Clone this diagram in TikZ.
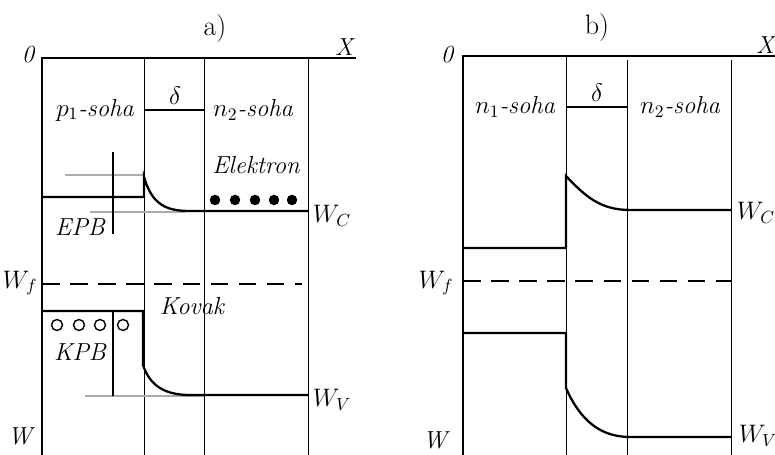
\documentclass[tikz,border=0pt]{standalone}
\usepackage{tikz}
\usetikzlibrary{positioning, calc}

\begin{document}
\begin{tikzpicture}[
  x=0.02cm, y=-0.02cm,
  axisline/.style={line width=1.4pt},
  band/.style={line width=1.3pt},
  divider/.style={line width=0.5pt},
  guide/.style={line width=0.6pt, color=gray!65},
  lbl/.style={font=\fontsize{14}{16}\selectfont\itshape, inner sep=1pt},
  ttl/.style={font=\fontsize{16}{18}\selectfont},
  elec/.style={circle, fill=black, inner sep=0pt, minimum size=0.21cm},
  hole/.style={circle, draw=black, fill=white, line width=0.8pt, inner sep=0pt, minimum size=0.22cm},
]
\useasboundingbox (0,0) rectangle (775,455);

% ---- a) ----
\node[ttl] (titleA) at (215,28) {a)};
\draw[axisline] (42,455) -- (42,58) -- (356,58);
\node[lbl] (zeroA) at (28,55) {0};
\node[lbl] (xA) at (344,47) {X};
\node[lbl] (wA) at (20,436) {W};

% region borders
\foreach \xx in {144,204,308}
  \draw[divider] (\xx,58) -- (\xx,455);
\draw[band] (144,110) -- (204,110);
\node[lbl] (deltaA) at (175,96) {$\delta$};
\node[lbl] (p1) at (95,110) {$p_1$-soha};
\node[lbl] (n2A) at (253,110) {$n_2$-soha};

% conduction band
\draw[guide] (65,175) -- (144,175);
\draw[guide] (90,212) -- (185,212);
\draw[band] (42,197) -- (144,197) -- (144,177)
  .. controls (152,204) and (165,211) .. (190,211) -- (308,211);
\draw[divider, line width=0.8pt] (113,152) -- (113,234);
\node[lbl] (epb) at (80,227) {EPB};
\node[lbl] (wcA) at (332,216) {$W_C$};
\node[lbl] (elektron) at (256,165) {Elektron};
\foreach \xx [count=\i] in {215,235,255,274,292}
  \node[elec] (e\i) at (\xx,200) {};

% Fermi level
\draw[line width=0.9pt, dash pattern=on 10pt off 6pt] (42,284) -- (302,284);
\node[lbl] (wfA) at (20,283) {$W_f$};
\node[lbl] (kovak) at (192,306) {Kovak};

% valence band
\draw[guide] (85,396) -- (204,396);
\draw[band] (42,311) -- (143,311) -- (143,365)
  .. controls (150,386) and (165,395) .. (190,395) -- (308,395);
\draw[divider, line width=0.8pt] (113,311) -- (113,396);
\foreach \xx [count=\i] in {57,79,100,123}
  \node[hole] (h\i) at (\xx,325) {};
\node[lbl] (kpb) at (80,352) {KPB};
\node[lbl] (wvA) at (332,400) {$W_V$};

% ---- b) ----
\node[ttl] (titleB) at (597,27) {b)};
\draw[axisline] (463,455) -- (463,56) -- (775,56);
\node[lbl] (zeroB) at (447,55) {0};
\node[lbl] (xB) at (765,45) {X};
\node[lbl] (wB) at (435,440) {W};

\draw[divider] (566,56) -- (566,455);
\foreach \xx in {627,731}
  \draw[divider] (\xx,60) -- (\xx,455);
\draw[band] (566,107) -- (627,107);
\node[lbl] (deltaB) at (597,93) {$\delta$};
\node[lbl] (n1) at (515,107) {$n_1$-soha};
\node[lbl] (n2B) at (680,107) {$n_2$-soha};

% conduction band
\draw[band] (463,248) -- (566,248) -- (566,176)
  .. controls (585,196) and (600,210) .. (630,210) -- (731,210);
\node[lbl] (wcB) at (756,213) {$W_C$};

% Fermi level
\draw[line width=0.9pt, dash pattern=on 10pt off 6pt] (463,281) -- (731,281);
\node[lbl] (wfB) at (436,283) {$W_f$};

% valence band
\draw[band] (463,333) -- (566,333) -- (566,388)
  .. controls (580,420) and (600,437) .. (630,437) -- (731,437);
\node[lbl] (wvB) at (758,436) {$W_V$};
\end{tikzpicture}
\end{document}
